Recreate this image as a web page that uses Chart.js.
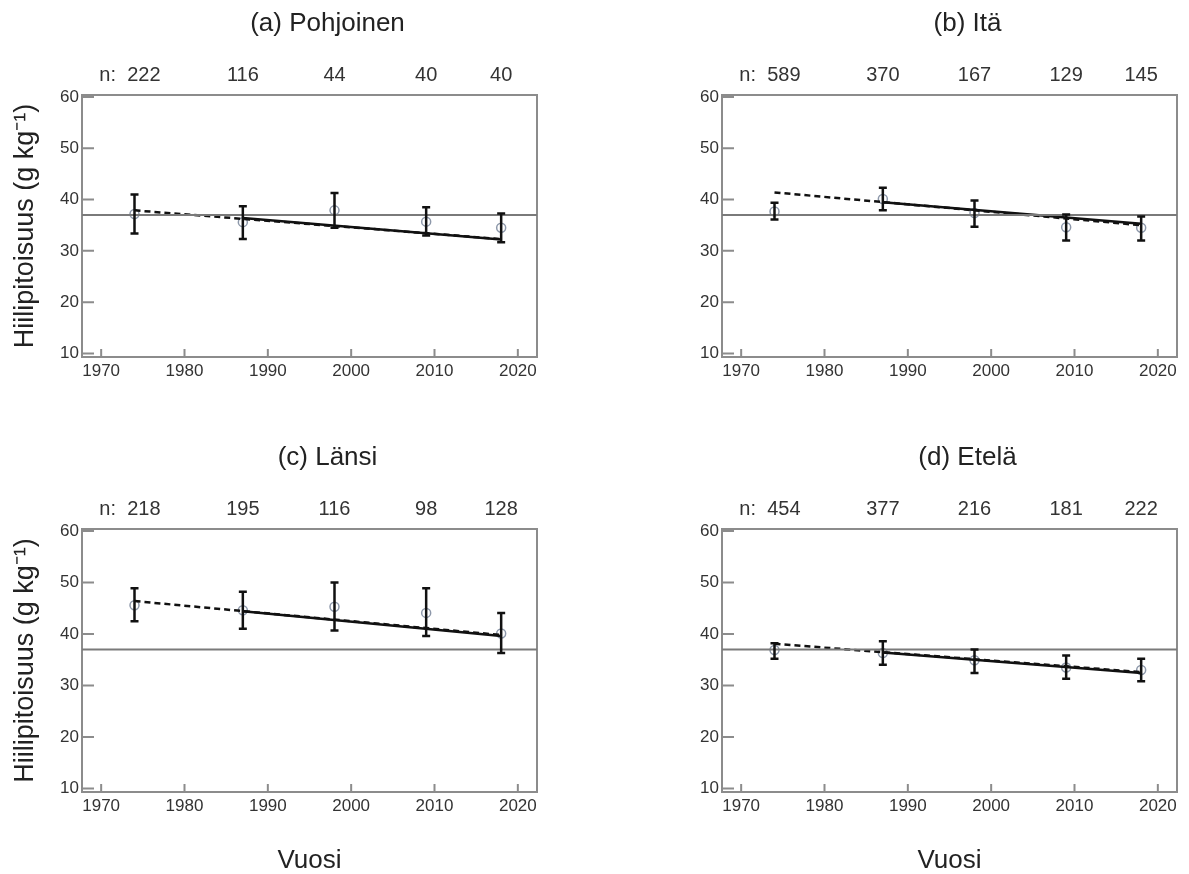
<!DOCTYPE html>
<html>
<head>
<meta charset="utf-8">
<script src="https://cdn.jsdelivr.net/npm/chart.js@4.4.1/dist/chart.umd.min.js"></script>
<style>
  body { margin: 0; background: #fff; }
  #page { position: relative; width: 1189px; height: 874px; overflow: hidden; }
  canvas { position: absolute; }
</style>
</head>
<body>
<div id="page">
  <canvas id="chart0" width="549" height="434" style="left:0;top:0"></canvas>
  <canvas id="chart1" width="549" height="434" style="left:640px;top:0"></canvas>
  <canvas id="chart2" width="549" height="440" style="left:0;top:434px"></canvas>
  <canvas id="chart3" width="549" height="440" style="left:640px;top:434px"></canvas>
</div>
<script>
const years = [1974, 1987, 1998, 2009, 2018];
const panelTitles = ["(a) Pohjoinen", "(b) Itä", "(c) Länsi", "(d) Etelä"];
const sampleCounts = [
    [222, 116, 44, 40, 40],
    [589, 370, 167, 129, 145],
    [218, 195, 116, 98, 128],
    [454, 377, 216, 181, 222],
];
const means = [
    [37.2, 35.6, 37.9, 35.7, 34.5],
    [37.7, 40.1, 37.4, 34.6, 34.5],
    [45.6, 44.6, 45.3, 44.1, 40.1],
    [36.9, 36.3, 34.9, 33.5, 33.0],
];
const lowerCI = [
    [33.4, 32.3, 34.5, 33.0, 31.7],
    [36.1, 37.9, 34.7, 32.0, 32.0],
    [42.5, 41.0, 40.7, 39.6, 36.3],
    [35.2, 34.0, 32.4, 31.3, 30.8],
];
const upperCI = [
    [41.0, 38.7, 41.3, 38.5, 37.3],
    [39.4, 42.3, 39.8, 37.1, 36.7],
    [48.9, 48.2, 50.0, 48.9, 44.1],
    [38.2, 38.6, 37.0, 35.8, 35.2],
];
// dashed trend, all years (value at first and last year)
const trendAllStart = [37.9, 41.4, 46.4, 38.1];
const trendAllEnd = [32.3, 35.0, 39.8, 32.6];
// solid trend, from 1987 on
const trendLateStart = [36.4, 39.5, 44.4, 36.4];
const trendLateEnd = [32.2, 35.3, 39.6, 32.4];
const referenceLevel = 37;
const xTicks = [1970, 1980, 1990, 2000, 2010, 2020];
const yTicks = [10, 20, 30, 40, 50, 60];
const X_MIN = 1967.7, X_MAX = 2022.3;
const Y_MIN = 9.3, Y_MAX = 60.4;

Chart.defaults.font.family = '"Liberation Sans", Arial, sans-serif';
Chart.defaults.color = '#333';

function makePanel(i) {
    const isLeft = i % 2 === 0;
    const isBottom = i >= 2;

    const panelPlugin = {
        id: 'panelDecor' + i,
        beforeDatasetsDraw(chart) {
            const { ctx, chartArea: a, scales: { x, y } } = chart;
            ctx.save();
            ctx.strokeStyle = '#8c8c8c';
            ctx.lineWidth = 2;
            ctx.strokeRect(a.left, a.top, a.right - a.left, a.bottom - a.top);
            // inward tick marks, left and bottom only
            ctx.beginPath();
            for (const v of yTicks) {
                const py = y.getPixelForValue(v);
                ctx.moveTo(a.left, py);
                ctx.lineTo(a.left + 12, py);
            }
            for (const v of xTicks) {
                const px = x.getPixelForValue(v);
                ctx.moveTo(px, a.bottom);
                ctx.lineTo(px, a.bottom - 8);
            }
            ctx.stroke();
            ctx.restore();
        },
        afterDatasetsDraw(chart) {
            const { ctx, scales: { x, y } } = chart;
            ctx.save();
            ctx.strokeStyle = '#111';
            ctx.lineWidth = 2.5;
            ctx.beginPath();
            years.forEach((yr, k) => {
                const px = x.getPixelForValue(yr);
                const lo = y.getPixelForValue(lowerCI[i][k]);
                const hi = y.getPixelForValue(upperCI[i][k]);
                ctx.moveTo(px, lo); ctx.lineTo(px, hi);
                ctx.moveTo(px - 4, lo); ctx.lineTo(px + 4, lo);
                ctx.moveTo(px - 4, hi); ctx.lineTo(px + 4, hi);
            });
            ctx.stroke();
            ctx.restore();
        },
        afterDraw(chart) {
            const { ctx, chartArea: a, scales: { x } } = chart;
            ctx.save();
            ctx.fillStyle = '#222';
            ctx.textBaseline = 'middle';
            ctx.textAlign = 'center';
            ctx.font = '26px "Liberation Sans", Arial, sans-serif';
            ctx.fillText(panelTitles[i], (a.left + a.right) / 2 + 18, a.top - 71);
            ctx.font = '20px "Liberation Sans", Arial, sans-serif';
            ctx.fillStyle = '#333';
            years.forEach((yr, k) => {
                const px = x.getPixelForValue(yr);
                if (k === 0) {
                    ctx.textAlign = 'right';
                    ctx.fillText('n:  ' + sampleCounts[i][k], px + 26, a.top - 20);
                } else {
                    ctx.textAlign = 'center';
                    ctx.fillText(String(sampleCounts[i][k]), px, a.top - 20);
                }
            });
            ctx.restore();
        }
    };

    return new Chart(document.getElementById('chart' + i), {
        type: 'scatter',
        plugins: [panelPlugin],
        data: {
            datasets: [
                {
                    type: 'line',
                    data: [{ x: X_MIN, y: referenceLevel }, { x: X_MAX, y: referenceLevel }],
                    borderColor: '#7a7a7a', borderWidth: 2, pointRadius: 0,
                },
                {
                    type: 'line',
                    data: [{ x: years[0], y: trendAllStart[i] }, { x: years[4], y: trendAllEnd[i] }],
                    borderColor: '#111', borderWidth: 2.5, borderDash: [6, 4], pointRadius: 0,
                },
                {
                    type: 'line',
                    data: [{ x: years[1], y: trendLateStart[i] }, { x: years[4], y: trendLateEnd[i] }],
                    borderColor: '#111', borderWidth: 2.5, pointRadius: 0,
                },
                {
                    data: years.map((yr, k) => ({ x: yr, y: means[i][k] })),
                    pointRadius: 4.5, pointBorderWidth: 1.5,
                    pointBorderColor: '#8d98aa', pointBackgroundColor: 'rgba(0,0,0,0)',
                },
            ],
        },
        options: {
            responsive: false,
            animation: false,
            layout: { padding: { left: 0, top: 95, right: 12, bottom: 0 } },
            plugins: {
                legend: { display: false },
                tooltip: { enabled: false },
            },
            scales: {
                x: {
                    type: 'linear',
                    min: X_MIN, max: X_MAX,
                    afterBuildTicks: (s) => { s.ticks = xTicks.map(v => ({ value: v })); },
                    afterFit: (s) => { s.height = isBottom ? 82 : 77; },
                    grid: { display: false, drawTicks: false },
                    border: { display: false },
                    ticks: { padding: 4, autoSkip: false, maxRotation: 0, color: '#333', font: { size: 17 }, callback: v => String(v) },
                    title: {
                        display: isBottom, text: 'Vuosi', color: '#222',
                        font: { size: 26, lineHeight: 1 }, padding: { top: 0, bottom: 0 },
                    },
                },
                y: {
                    min: Y_MIN, max: Y_MAX,
                    afterBuildTicks: (s) => { s.ticks = yTicks.map(v => ({ value: v })); },
                    afterFit: (s) => { s.width = 82; },
                    grid: { display: false, drawTicks: false },
                    border: { display: false },
                    ticks: { padding: 3, autoSkip: false, color: '#333', font: { size: 17 }, callback: v => String(v) },
                    title: {
                        display: isLeft, text: 'Hiilipitoisuus (g kg⁻¹)', color: '#222',
                        font: { size: 27, lineHeight: 1 }, padding: { top: 12, bottom: 0 },
                    },
                },
            },
        },
    });
}

[0, 1, 2, 3].forEach(makePanel);
</script>
</body>
</html>
